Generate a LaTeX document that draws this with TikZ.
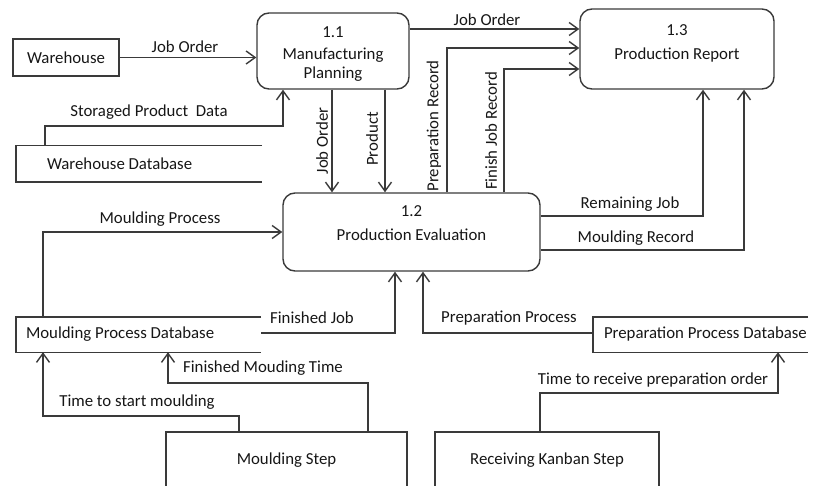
\documentclass[tikz,border=0pt]{standalone}
\usepackage{fontspec}
\setmainfont{Carlito}
\usetikzlibrary{arrows.meta,calc}
\definecolor{lc}{HTML}{3A3A3A}
\definecolor{txt}{HTML}{161616}
\begin{document}
\begin{tikzpicture}[x=1pt,y=-1pt,
  every node/.style={font=\fontsize{16.8}{19.5}\selectfont, text=txt},
  ln/.style={draw=lc, line width=1.4pt},
  flow/.style={ln, -{Straight Barb[length=9pt,width=13pt,line width=1.4pt]}},
  proc/.style={ln, rounded corners=12pt, align=center, inner sep=0pt},
  ent/.style={ln, inner sep=0pt},
  store/.style={inner ysep=0pt},
  lbl/.style={inner sep=0pt},
  vlbl/.style={inner sep=0pt, rotate=90}
]
\useasboundingbox (0,0) rectangle (813,486);

% entities
\node[ent, minimum width=106pt, minimum height=37pt] (wh) at (66,57.5) {Warehouse};
\node[ent, minimum width=241pt, minimum height=56pt] (ms) at (286.5,460) {Moulding Step};
\node[ent, minimum width=224pt, minimum height=56pt] (rk) at (547,460) {Receiving Kanban Step};

% processes
\node[proc, minimum width=152pt, minimum height=76pt, text height=58pt] (p11) at (333,51)
  {1.1\\[2pt]Manufacturing\\Planning};
\node[proc, minimum width=194pt, minimum height=80pt, text depth=14pt] (p13) at (677,49)
  {1.3\\[4pt]Production Report};
\node[proc, minimum width=257pt, minimum height=78pt, text depth=18pt] (p12) at (411.5,232)
  {1.2\\[5pt]Production Evaluation};

% data stores
\node[store, inner xsep=31pt, minimum height=36pt] (wdb) at (139,164) {\makebox[184pt][l]{Warehouse Database}};
\draw[ln] (wdb.north east) -- (wdb.north west) -- (wdb.south west) -- (wdb.south east);
\node[store, inner xsep=10pt, minimum height=35pt] (mdb) at (138.5,334.5) {\makebox[225pt][l]{Moulding Process Database}};
\draw[ln] (mdb.north east) -- (mdb.north west) -- (mdb.south west) -- (mdb.south east);
\node[store, inner xsep=11pt, minimum height=35pt] (pdb) at (700.5,334.5) {\makebox[193pt][l]{Preparation Process Database}};
\draw[ln] (pdb.north east) -- (pdb.north west) -- (pdb.south west) -- (pdb.south east);

% flows
\draw[flow] (wh.east) -- (wh.east -| p11.west);
\draw[flow] (p11.east |- 0,29) -- (p13.west |- 0,29);
\draw[flow] (447,0 |- p12.north) -- (447,48) -- (p13.west |- 0,48);
\draw[flow] (504,0 |- p12.north) -- (504,69) -- (p13.west |- 0,69);
\draw[flow] (45,0 |- wdb.north) |- (283,126) -- (283,0 |- p11.south);
\draw[flow] (332,0 |- p11.south) -- (332,0 |- p12.north);
\draw[flow] (385,0 |- p11.south) -- (385,0 |- p12.north);
\draw[flow] (p12.east |- 0,216) -| (703,0 |- p13.south);
\draw[flow] (p12.east |- 0,250) -| (744,0 |- p13.south);
\draw[flow] (43,0 |- mdb.north) |- (p12.west |- 0,232);
\draw[flow] (mdb.east |- 0,333) -| (395,0 |- p12.south);
\draw[flow] (pdb.west |- 0,333) -| (423,0 |- p12.south);
\draw[flow] (239,0 |- ms.north) |- (43,416) -- (43,0 |- mdb.south);
\draw[flow] (368,0 |- ms.north) |- (168,383) -- (168,0 |- mdb.south);
\draw[flow] (540,0 |- rk.north) |- (778,393) -- (778,0 |- pdb.south);

% labels
\node[lbl] (l1) at (185,47) {Job Order};
\node[lbl] (l2) at (487,20) {Job Order};
\node[lbl] (l3) at (149,112) {Storaged Product\ \ Data};
\node[vlbl] (l4) at (322,141) {Job Order};
\node[vlbl] (l5) at (372,139) {Product};
\node[vlbl] (l6) at (434,126) {Preparation Record};
\node[vlbl] (l7) at (491,131) {Finish Job Record};
\node[lbl] (l8) at (630,204) {Remaining Job};
\node[lbl] (l9) at (636,238) {Moulding Record};
\node[lbl] (l10) at (160,219) {Moulding Process};
\node[lbl] (l11) at (312,318) {Finished Job};
\node[lbl] (l12) at (509,318) {Preparation Process};
\node[lbl] (l13) at (263,368) {Finished Mouding Time};
\node[lbl] (l14) at (137,402) {Time to start moulding};
\node[lbl] (l15) at (653,380) {Time to receive preparation order};
\end{tikzpicture}
\end{document}
